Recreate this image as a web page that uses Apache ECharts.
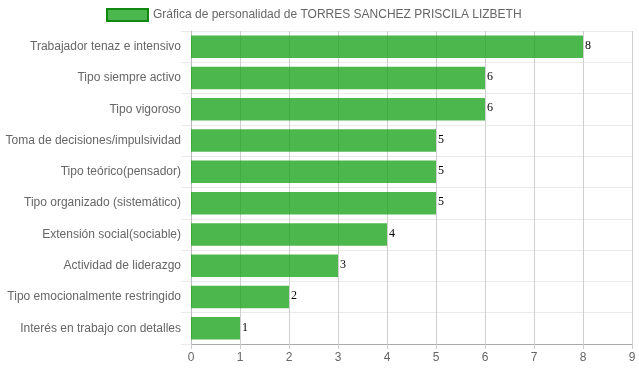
<!DOCTYPE html>
<html><head><meta charset="utf-8">
<script src="https://cdn.jsdelivr.net/npm/echarts@6/dist/echarts.min.js"></script>
<style>html,body{margin:0;padding:0;background:#fff}#c{width:639px;height:372px}</style>
</head><body><div id="c"></div>
<script>
const categories = [
  "Trabajador tenaz e intensivo",
  "Tipo siempre activo",
  "Tipo vigoroso",
  "Toma de decisiones/impulsividad",
  "Tipo teórico(pensador)",
  "Tipo organizado (sistemático)",
  "Extensión social(sociable)",
  "Actividad de liderazgo",
  "Tipo emocionalmente restringido",
  "Interés en trabajo con detalles"
];
const values = [8, 6, 6, 5, 5, 5, 4, 3, 2, 1];
const seriesName = "Gráfica de personalidad de TORRES SANCHEZ PRISCILA LIZBETH";

const chart = echarts.init(document.getElementById('c'), null, {renderer: 'canvas'});
chart.setOption({
  animation: false,
  textStyle: {fontFamily: "Liberation Sans, Arial, sans-serif"},
  legend: {
    top: 3, left: 101,
    icon: 'rect',
    itemWidth: 41, itemHeight: 12, itemGap: 4,
    textStyle: {color: '#666', fontSize: 12, fontFamily: "Liberation Sans, Arial"},
    itemStyle: {borderColor: '#118811', borderWidth: 2}
  },
  grid: {left: 191, right: 7, top: 31, bottom: 28, containLabel: false},
  xAxis: {
    type: 'value', min: 0, max: 9, interval: 1,
    axisLine: {show: true, lineStyle: {color: '#aaa'}},
    axisTick: {show: true, length: 5, lineStyle: {color: '#ccc'}},
    splitLine: {show: true, lineStyle: {color: '#cfcfcf'}},
    axisLabel: {color: '#666', fontSize: 12, margin: 8}
  },
  yAxis: {
    type: 'category', data: categories, inverse: true,
    axisLine: {show: true, lineStyle: {color: '#bbb'}},
    axisTick: {show: true, length: 10, lineStyle: {color: '#ebebeb'}},
    splitLine: {show: true, lineStyle: {color: '#ebebeb'}},
    axisLabel: {color: '#666', fontSize: 12, margin: 10}
  },
  series: [{
    name: seriesName, type: 'bar', data: values,
    barCategoryGap: '28%',
    itemStyle: {color: 'rgba(20,160,20,0.76)'},
    label: {show: true, position: 'right', distance: 1, offset: [1, -1], color: '#000', fontSize: 12, fontFamily: "Liberation Serif, Times New Roman, serif"}
  }]
});
</script></body></html>
